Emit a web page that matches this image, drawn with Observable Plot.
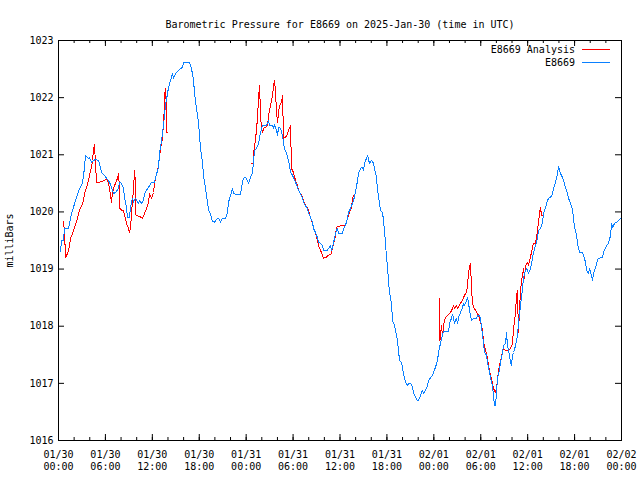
<!DOCTYPE html>
<html><head><meta charset="utf-8">
<script src="https://cdn.jsdelivr.net/npm/d3@7"></script>
<script src="https://cdn.jsdelivr.net/npm/@observablehq/plot@0.6"></script>
<style>html,body{margin:0;padding:0;background:#fff} svg{display:block}</style>
</head><body><div id="chart"></div>
<script>
const title = "Barometric Pressure for E8669 on 2025-Jan-30 (time in UTC)";
const yLabel = "milliBars";
const seriesNames = ["E8669 Analysis", "E8669"];
const seriesColors = ["#ff0000", "#0a80ff"];
const startUTC = Date.UTC(2025, 0, 30, 0, 0);
const spanHours = 72;
const yTicks = [1016, 1017, 1018, 1019, 1020, 1021, 1022, 1023];

// E8669 station series: hours since 2025-01-30 00:00 UTC, pressure (mb)
const stationHours = [0.26,0.38,0.64,0.77,1.28,1.53,1.79,2.30,2.69,3.07,3.33,3.45,3.84,3.96,4.22,4.73,5.12,5.24,5.50,5.88,6.14,6.52,6.78,7.03,7.29,7.67,7.80,8.06,8.31,8.44,8.70,8.82,9.08,9.21,9.46,9.59,9.85,10.23,10.36,10.61,10.87,11.00,11.25,11.64,11.89,12.28,12.41,12.79,12.92,13.17,13.43,13.68,13.94,14.07,14.32,14.58,14.71,14.96,15.35,15.86,15.99,16.75,17.01,17.27,17.39,17.65,17.90,18.03,18.16,18.42,18.54,18.80,19.06,19.18,19.44,19.70,19.95,20.33,20.46,20.72,20.97,21.36,21.61,21.74,22.00,22.25,22.38,22.64,23.28,23.53,23.66,23.92,24.17,24.30,24.55,24.81,24.94,25.07,25.32,25.58,25.71,25.96,26.09,26.47,26.73,26.86,26.98,27.37,27.50,27.62,27.88,28.01,28.14,28.39,28.65,28.78,28.90,29.16,29.41,29.54,29.67,29.93,30.05,30.31,30.57,30.69,30.95,31.21,31.33,31.59,31.84,31.97,32.23,32.48,32.61,32.87,33.12,33.25,33.51,33.76,33.89,34.40,34.53,34.79,34.91,35.04,35.30,35.55,35.68,35.81,36.32,36.45,36.70,36.96,37.09,37.34,37.60,37.73,37.98,38.24,38.37,38.62,38.88,39.01,39.13,39.39,39.52,39.77,40.03,40.29,40.41,40.67,40.80,41.05,41.18,41.44,41.56,41.69,41.82,41.95,42.08,42.20,42.33,42.59,42.72,42.97,43.10,43.35,43.48,43.61,43.87,43.99,44.12,44.38,44.63,44.76,45.02,45.27,45.40,45.66,45.91,46.04,46.30,46.55,46.68,46.94,47.19,47.32,47.58,47.83,47.96,48.21,48.47,48.60,48.85,49.11,49.24,49.88,50.01,50.26,50.39,50.52,50.64,50.90,51.03,51.16,51.41,51.67,51.80,51.92,52.18,52.31,52.43,52.56,52.82,53.07,53.46,53.59,53.84,53.97,54.10,54.23,54.35,54.48,54.74,54.86,55.12,55.25,55.50,55.63,55.76,55.89,56.02,56.14,56.40,56.53,56.78,56.91,57.17,57.29,57.42,57.55,57.81,57.93,58.06,58.19,58.45,58.70,58.83,59.08,59.34,59.47,59.60,59.85,59.98,60.11,60.36,60.62,60.75,61.00,61.26,61.39,61.64,61.90,62.03,62.28,62.54,62.67,62.92,63.18,63.31,63.56,63.82,63.95,64.20,64.46,64.58,64.84,65.10,65.22,65.48,65.74,65.86,65.99,66.25,66.37,66.63,67.01,67.14,67.40,67.52,67.78,67.91,68.16,68.29,68.42,68.68,68.93,69.06,69.57,69.70,69.96,70.21,70.34,70.60,70.72,70.85,71.11,71.36,71.62,71.87];
const stationValues = [1019.30,1019.50,1019.50,1019.71,1019.71,1019.89,1020.03,1020.25,1020.41,1020.50,1020.78,1020.99,1020.94,1020.95,1020.87,1020.92,1020.90,1020.85,1020.69,1020.64,1020.59,1020.52,1020.43,1020.32,1020.34,1020.41,1020.52,1020.50,1020.41,1020.25,1020.08,1019.90,1019.90,1020.08,1020.24,1020.17,1020.24,1020.15,1020.20,1020.15,1020.20,1020.32,1020.38,1020.46,1020.52,1020.52,1020.60,1020.78,1021.02,1021.25,1021.51,1021.86,1022.07,1022.18,1022.30,1022.42,1022.34,1022.42,1022.48,1022.53,1022.62,1022.62,1022.51,1022.30,1022.09,1021.81,1021.57,1021.34,1021.11,1020.87,1020.64,1020.41,1020.17,1020.03,1019.97,1019.83,1019.82,1019.89,1019.89,1019.82,1019.89,1019.89,1019.99,1020.17,1020.29,1020.41,1020.32,1020.31,1020.31,1020.52,1020.59,1020.60,1020.55,1020.50,1020.60,1020.69,1020.87,1021.08,1021.11,1021.20,1021.30,1021.46,1021.51,1021.51,1021.53,1021.60,1021.51,1021.51,1021.46,1021.53,1021.43,1021.34,1021.48,1021.46,1021.34,1021.20,1021.11,1021.02,1020.90,1020.81,1020.69,1020.64,1020.60,1020.52,1020.43,1020.38,1020.32,1020.24,1020.17,1020.11,1020.06,1019.99,1019.90,1019.82,1019.71,1019.64,1019.55,1019.47,1019.45,1019.41,1019.33,1019.33,1019.36,1019.41,1019.33,1019.38,1019.54,1019.68,1019.71,1019.62,1019.62,1019.71,1019.76,1019.90,1019.99,1020.06,1020.15,1020.20,1020.34,1020.55,1020.67,1020.76,1020.78,1020.73,1020.85,1020.94,1020.99,1020.85,1020.90,1020.85,1020.76,1020.60,1020.38,1020.15,1020.03,1019.99,1019.85,1019.68,1019.45,1019.20,1019.03,1018.80,1018.59,1018.40,1018.10,1018.01,1017.93,1017.75,1017.58,1017.40,1017.37,1017.28,1017.17,1017.02,1016.96,1017.00,1017.00,1016.93,1016.84,1016.75,1016.70,1016.70,1016.79,1016.88,1016.82,1016.88,1016.96,1017.05,1017.10,1017.14,1017.19,1017.28,1017.40,1017.54,1017.70,1017.84,1017.91,1017.91,1018.05,1018.14,1018.21,1018.14,1018.05,1018.14,1018.05,1018.15,1018.24,1018.33,1018.40,1018.36,1018.45,1018.50,1018.42,1018.28,1018.10,1018.14,1018.14,1018.19,1018.19,1018.14,1017.98,1017.84,1017.70,1017.54,1017.49,1017.37,1017.19,1017.09,1016.96,1016.79,1016.61,1016.61,1016.84,1017.09,1017.23,1017.37,1017.54,1017.66,1017.70,1017.89,1017.66,1017.58,1017.37,1017.31,1017.49,1017.54,1017.66,1017.84,1018.07,1018.36,1018.66,1018.85,1018.92,1019.01,1018.98,1018.92,1019.01,1019.19,1019.29,1019.41,1019.54,1019.68,1019.71,1019.82,1019.97,1020.08,1020.20,1020.24,1020.25,1020.32,1020.41,1020.52,1020.67,1020.80,1020.67,1020.60,1020.55,1020.43,1020.32,1020.24,1020.15,1020.03,1019.89,1019.73,1019.59,1019.45,1019.29,1019.29,1019.24,1019.12,1018.98,1018.92,1019.01,1018.89,1018.80,1018.92,1019.03,1019.15,1019.19,1019.20,1019.29,1019.38,1019.43,1019.45,1019.59,1019.80,1019.73,1019.80,1019.82,1019.85,1019.89];

// E8669 Analysis series (null marks a gap between segments)
const analysisHours = [0.64,0.77,0.90,1.15,1.41,1.53,1.79,2.05,2.43,2.69,2.94,3.20,3.33,3.58,3.84,3.96,4.22,4.35,4.48,4.60,4.73,4.86,5.24,5.88,6.14,6.39,6.52,6.65,6.78,6.91,7.03,7.29,7.55,7.67,7.80,7.86,8.06,8.31,8.44,8.70,8.95,9.08,9.21,9.34,9.46,9.59,9.72,9.85,9.91,10.36,10.74,11.00,11.25,11.51,11.64,11.89,12.15,12.28,12.53,12.66,12.79,13.04,13.30,13.43,13.49,13.56,13.68,13.81,13.85,13.94,
  null,
  24.68,24.94,25.00,25.19,25.45,25.58,25.71,25.83,25.96,26.09,26.22,26.47,26.73,26.86,27.11,27.37,27.50,27.62,27.75,27.88,28.01,28.14,28.26,28.52,28.65,28.78,29.03,29.29,29.41,29.67,29.80,30.05,30.31,30.57,30.69,30.95,31.21,31.33,31.59,31.84,31.97,32.23,32.48,32.61,32.87,33.12,33.25,33.51,33.76,33.89,34.15,34.53,34.91,35.04,35.30,35.55,35.68,36.70,36.96,37.21,37.47,37.60,37.73,
  null,
  48.73,48.79,48.98,49.11,49.24,49.37,49.49,49.75,49.88,50.13,50.39,50.52,50.64,50.90,51.03,51.16,51.41,51.67,51.80,51.92,52.18,52.31,52.43,52.56,52.69,52.82,52.95,53.07,53.33,53.59,53.71,53.97,54.23,54.35,54.61,54.86,54.99,55.25,55.50,55.63,55.89,56.02,56.14,56.27,56.53,56.78,56.91,57.17,57.42,57.81,58.06,58.19,58.45,58.57,58.70,58.76,58.83,58.96,59.08,59.21,59.34,59.47,59.60,59.72,59.98,60.11,60.24,60.49,60.62,60.75,61.00,61.13,61.26,61.39,61.52,61.64,61.77,62.03];
const analysisValues = [1019.83,1019.64,1019.20,1019.27,1019.41,1019.54,1019.62,1019.73,1019.89,1020.03,1020.10,1020.20,1020.32,1020.43,1020.55,1020.64,1020.78,1020.90,1021.08,1021.18,1020.85,1020.52,1020.52,1020.55,1020.59,1020.50,1020.41,1020.29,1020.17,1020.34,1020.41,1020.50,1020.59,1020.67,1020.43,1020.06,1020.03,1020.03,1019.94,1019.80,1019.71,1019.64,1019.73,1019.97,1020.20,1020.38,1020.73,1020.50,1019.94,1019.92,1019.89,1019.97,1020.06,1020.17,1020.32,1020.24,1020.34,1020.50,1020.67,1020.73,1020.81,1021.11,1021.29,1021.57,1021.69,1022.04,1022.16,1021.81,1021.39,1021.39,
  null,
  1020.85,1020.85,1021.08,1021.25,1021.64,1022.00,1022.21,1021.74,1021.43,1021.39,1021.46,1021.48,1021.51,1021.69,1021.86,1022.04,1022.21,1022.30,1022.13,1021.74,1021.57,1021.74,1021.86,1021.92,1022.04,1021.29,1021.30,1021.37,1021.43,1021.51,1020.76,1020.69,1020.55,1020.46,1020.38,1020.32,1020.25,1020.20,1020.11,1020.08,1020.03,1019.90,1019.80,1019.71,1019.62,1019.50,1019.41,1019.33,1019.24,1019.19,1019.20,1019.24,1019.27,1019.38,1019.50,1019.71,1019.75,1019.76,1019.89,1019.99,1020.08,1020.24,1020.29,
  null,
  1018.49,1017.75,1018.01,1017.84,1018.01,1018.10,1018.15,1018.19,1018.21,1018.24,1018.31,1018.36,1018.31,1018.36,1018.31,1018.33,1018.40,1018.45,1018.50,1018.54,1018.59,1018.71,1018.94,1019.03,1019.10,1018.66,1018.40,1018.33,1018.28,1018.22,1018.19,1018.07,1017.93,1017.72,1017.58,1017.45,1017.31,1017.14,1017.00,1016.91,1016.84,1016.93,1017.05,1017.23,1017.40,1017.54,1017.61,1017.58,1017.58,1017.61,1017.70,1017.96,1018.24,1018.54,1018.63,1018.24,1017.89,1018.31,1018.59,1018.80,1018.89,1019.01,1018.84,1019.06,1019.12,1019.06,1019.15,1019.29,1019.38,1019.45,1019.45,1019.55,1019.68,1019.82,1019.97,1020.08,1019.94,1019.94];

const toDate = h => h == null ? null : new Date(startUTC + h * 3600e3);
const station = stationHours.map((h, i) => ({t: toDate(h), p: stationValues[i]}));
const analysis = analysisHours.map((h, i) => ({t: toDate(h), p: analysisValues[i]}));
const x0 = new Date(startUTC), x1 = new Date(startUTC + spanHours * 3600e3);
const majorTicks = d3.utcHour.every(6).range(x0, new Date(+x1 + 1));
const minorTicks = d3.utcHour.every(2).range(x0, new Date(+x1 + 1));

const W = 640, H = 480, mL = 58, mR = 19, mT = 40, mB = 40;
const fh = H - mT - mB, fw = W - mL - mR;
const font = "'DejaVu Sans Mono', monospace";
const fmt = d3.utcFormat("%m/%d\n%H:%M");

const chart = Plot.plot({
  width: W, height: H,
  marginLeft: mL, marginRight: mR, marginTop: mT, marginBottom: mB,
  style: {fontFamily: font, fontSize: "10px", color: "#000", background: "#fff", overflow: "visible"},
  x: {type: "utc", domain: [x0, x1]},
  y: {domain: [1016, 1023]},
  marks: [
    Plot.line(analysis, {x: "t", y: "p", stroke: seriesColors[0], strokeWidth: 1, shapeRendering: "crispEdges"}),
    Plot.line(station, {x: "t", y: "p", stroke: seriesColors[1], strokeWidth: 1, shapeRendering: "crispEdges"}),
    Plot.tickX(minorTicks, {x: d => d, insetTop: fh - 3, stroke: "#000"}),
    Plot.tickX(minorTicks, {x: d => d, insetBottom: fh - 3, stroke: "#000"}),
    Plot.tickX(majorTicks, {x: d => d, insetTop: fh - 6, stroke: "#000"}),
    Plot.tickX(majorTicks, {x: d => d, insetBottom: fh - 6, stroke: "#000"}),
    Plot.tickY(yTicks, {y: d => d, insetRight: fw - 6, stroke: "#000"}),
    Plot.tickY(yTicks, {y: d => d, insetLeft: fw - 6, stroke: "#000"}),
    Plot.frame({stroke: "#000"}),
    Plot.axisX(majorTicks, {tickSize: 0, tickPadding: 9, tickFormat: fmt, lineHeight: 1.2, label: null}),
    Plot.axisY(yTicks, {tickSize: 0, tickPadding: 5, tickFormat: d => String(d), label: yLabel, labelAnchor: "center", labelOffset: 53, labelArrow: "none"}),
    Plot.text([title], {frameAnchor: "top", dy: -20, fontSize: 10})
  ]
});
document.getElementById("chart").appendChild(chart);

// legend (gnuplot-style, top-right inside the frame)
const svg = d3.select(chart);
const lg = svg.append("g").attr("font-family", font).attr("font-size", 10);
seriesNames.forEach((name, i) => {
  const y = 49.5 + i * 12.5;
  lg.append("text").attr("x", 575).attr("y", y).attr("dy", "0.35em").attr("text-anchor", "end").attr("fill", "#000").text(name);
  lg.append("line").attr("x1", 582).attr("x2", 610).attr("y1", y).attr("y2", y).attr("stroke", seriesColors[i]).attr("stroke-width", 1).attr("shape-rendering", "crispEdges");
});
</script>
</body></html>
